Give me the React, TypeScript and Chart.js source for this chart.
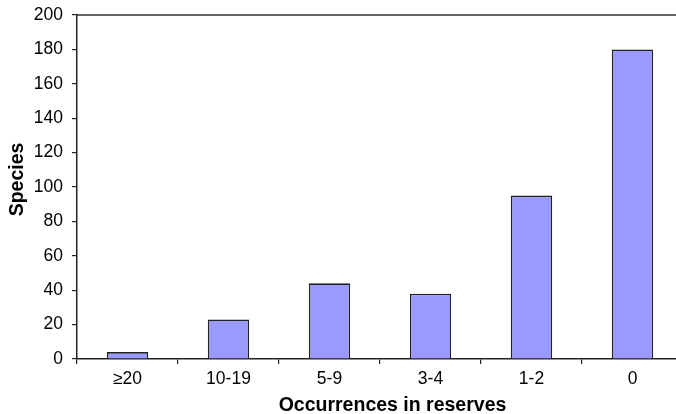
import React, { useEffect, useRef } from "react";
import { Chart, registerables } from "chart.js";

Chart.register(...registerables);

const categories = ["≥20", "10-19", "5-9", "3-4", "1-2", "0"];
const speciesCounts = [4, 23, 44, 38, 95, 180];
const yTicks = [0, 20, 40, 60, 80, 100, 120, 140, 160, 180, 200];
const xTitle = "Occurrences in reserves";
const yTitle = "Species";

const family = "'Liberation Sans', Arial, sans-serif";

const decor = {
  id: "decor",
  afterDraw(chart: any) {
    const { ctx, chartArea } = chart;
    ctx.save();
    ctx.strokeStyle = "#333";
    ctx.lineWidth = 1.5;
    ctx.beginPath();
    ctx.moveTo(chartArea.left, chartArea.top);
    ctx.lineTo(chartArea.right, chartArea.top);
    ctx.stroke();
    ctx.fillStyle = "#000";
    ctx.font = `bold 19.5px ${family}`;
    ctx.textAlign = "center";
    ctx.textBaseline = "alphabetic";
    ctx.fillText(xTitle, 392.5, 411);
    ctx.translate(23, 179.5);
    ctx.rotate(-Math.PI / 2);
    ctx.fillText(yTitle, 0, 0);
    ctx.restore();
  },
};

export default function App() {
  const ref = useRef<HTMLCanvasElement>(null);
  useEffect(() => {
    if (!ref.current) return;
    const tickFont = { family, size: 17.5 };
    const chart = new Chart(ref.current, {
      type: "bar",
      data: {
        labels: categories,
        datasets: [
          {
            data: speciesCounts,
            backgroundColor: "#9999FF",
            borderColor: "#222",
            borderWidth: 1.6,
            barPercentage: 0.41,
            categoryPercentage: 1,
          },
        ],
      },
      options: {
        animation: false,
        responsive: false,
        layout: { padding: { top: 15, right: 7, left: 0, bottom: 0 } },
        plugins: { legend: { display: false }, tooltip: { enabled: false } },
        scales: {
          x: {
            afterFit: (s: any) => { s.height = 55; s.paddingLeft = 0; s.paddingRight = 0; },
            grid: { offset: true, drawOnChartArea: false, drawTicks: true, tickLength: 5, color: "#222", lineWidth: 1.2 },
            border: { display: true, color: "#222", width: 1.5 },
            ticks: { color: "#000", font: tickFont, padding: 4.5 },
          },
          y: {
            min: 0,
            max: 200,
            afterFit: (s: any) => { s.width = 77; s.paddingTop = 0; s.paddingBottom = 0; },
            afterBuildTicks: (s: any) => { s.ticks = yTicks.map((v) => ({ value: v })); },
            grid: { drawOnChartArea: false, drawTicks: true, tickLength: 5, color: "#222", lineWidth: 1.2 },
            border: { display: true, color: "#222", width: 1.5 },
            ticks: { color: "#000", font: tickFont, padding: 9 },
          },
        },
      },
      plugins: [decor],
    });
    return () => chart.destroy();
  }, []);
  return (
    <div style={{ position: "fixed", left: 0, top: 0, width: 676, height: 414, overflow: "hidden", background: "#fff" }}>
      <canvas ref={ref} width={690} height={414} style={{ display: "block" }} />
    </div>
  );
}
